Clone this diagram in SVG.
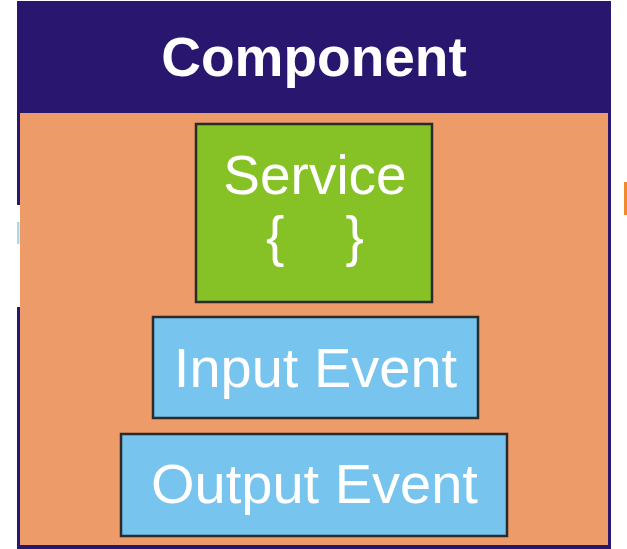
<svg xmlns="http://www.w3.org/2000/svg" width="627" height="549" viewBox="0 0 627 549">
<style>
.box{stroke:#2b2b2b;stroke-width:2.5}
.lbl{font-family:"Liberation Sans",Arial,sans-serif;fill:#ffffff;text-anchor:middle}
</style>
<rect width="627" height="549" fill="#ffffff"/>
<g id="component">
<rect x="17" y="1" width="594" height="548" fill="#29176f"/>
<rect x="20" y="113" width="588" height="432" fill="#ee9b6a"/>
<rect x="17" y="205" width="3" height="102" fill="#ffffff"/>
<rect x="17" y="222" width="2.5" height="22" fill="#a9d8ee"/>
<text class="lbl" x="314" y="76" font-size="55" font-weight="bold">Component</text>
</g>
<g id="service">
<rect class="box" x="196" y="124" width="236" height="178" fill="#86c226"/>
<text class="lbl" x="315" y="194" font-size="55">Service</text>
<text class="lbl" x="315" y="255" font-size="55" xml:space="preserve">{    }</text>
</g>
<g id="input-event">
<rect class="box" x="153" y="317" width="325" height="101" fill="#77c4ef"/>
<text class="lbl" x="315.5" y="387" font-size="56">Input Event</text>
</g>
<g id="output-event">
<rect class="box" x="121" y="434" width="386" height="102" fill="#77c4ef"/>
<text class="lbl" x="314.5" y="503" font-size="56">Output Event</text>
</g>
<rect x="624" y="182" width="3" height="33" fill="#f08a2c"/>
<g id="connectors"/>
</svg>
